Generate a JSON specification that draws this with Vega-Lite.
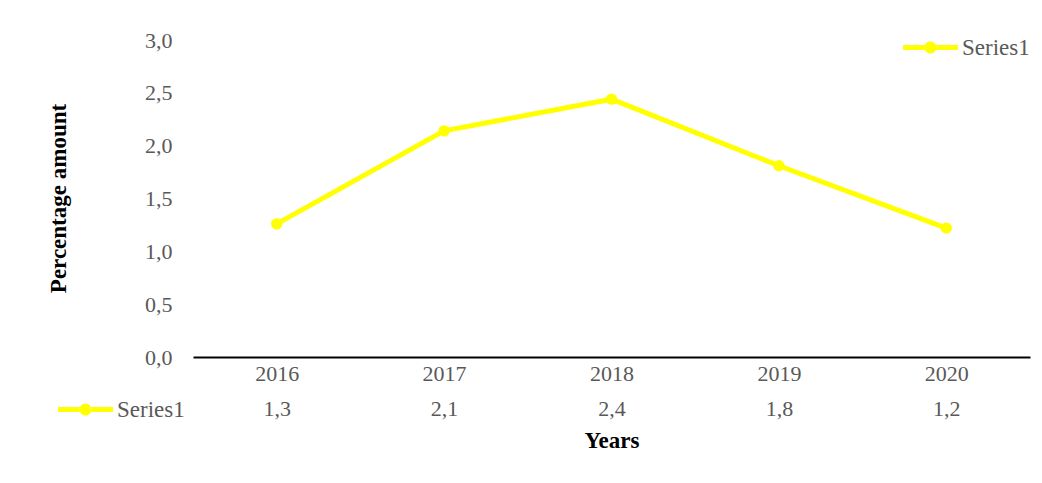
{
  "$schema": "https://vega.github.io/schema/vega-lite/v6.json",
  "width": 837,
  "height": 317,
  "autosize": "none",
  "padding": {"left": 193, "top": 40, "right": 12, "bottom": 126},
  "background": "white",
  "config": {"view": {"stroke": null}, "font": "Liberation Serif"},
  "data": {
    "values": [
      {"year": "2016", "value": 1.26, "series": "Series1"},
      {"year": "2017", "value": 2.14, "series": "Series1"},
      {"year": "2018", "value": 2.44, "series": "Series1"},
      {"year": "2019", "value": 1.81, "series": "Series1"},
      {"year": "2020", "value": 1.22, "series": "Series1"}
    ]
  },
  "layer": [
    {
      "layer": [
        {
          "mark": {"type": "line", "color": "#FFFF00", "strokeWidth": 5},
          "encoding": {
            "x": {
              "field": "year", "type": "ordinal",
              "scale": {"padding": 0.5},
              "axis": {
                "title": null, "labelAngle": 0, "labelFontSize": 22,
                "labelColor": "#595959", "labelPadding": 6, "ticks": false,
                "domainColor": "#000000", "domainWidth": 2
              }
            },
            "y": {
              "field": "value", "type": "quantitative",
              "scale": {"domain": [0, 3], "nice": false},
              "axis": {
                "values": [0, 0.5, 1, 1.5, 2, 2.5, 3],
                "labelExpr": "replace(format(datum.value,'.1f'),'.',',')",
                "grid": false, "domain": false, "ticks": false,
                "labelPadding": 21, "labelFontSize": 22, "labelColor": "#595959",
                "title": "Percentage amount", "titleFontSize": 23,
                "titleFontWeight": "bold", "titleColor": "#000000",
                "titleX": -135, "titleY": 158, "titleAngle": -90,
                "titleBaseline": "middle", "titleAlign": "center"
              }
            }
          }
        },
        {
          "mark": {"type": "circle", "opacity": 1, "size": 130},
          "encoding": {
            "x": {"field": "year", "type": "ordinal"},
            "y": {"field": "value", "type": "quantitative"},
            "color": {
              "field": "series", "type": "nominal",
              "scale": {"range": ["#FFFF00"]},
              "legend": {
                "title": null, "orient": "none", "legendX": 710, "legendY": -20,
                "symbolType": "M -0.22,0 A 0.22,0.22 0 1,0 0.22,0 A 0.22,0.22 0 1,0 -0.22,0 Z M -1,-0.09 H -0.21 V 0.09 H -1 Z M 0.21,-0.09 H 1 V 0.09 H 0.21 Z",
                "symbolSize": 3025, "symbolStrokeWidth": 0,
                "labelFontSize": 23, "labelColor": "#595959", "labelOffset": 4
              }
            }
          }
        }
      ]
    },
    {
      "mark": {"type": "text", "text": ""},
      "encoding": {
        "x": {
          "field": "value", "type": "ordinal", "sort": {"field": "year"},
          "scale": {"padding": 0.5},
          "axis": {
            "orient": "bottom", "offset": 35, "domain": false, "ticks": false,
            "labelAngle": 0,
            "labelExpr": "replace(format(datum.value,'.1f'),'.',',')",
            "labelFontSize": 22, "labelColor": "#595959", "labelPadding": 6,
            "title": "Years", "titleFontSize": 23, "titleFontWeight": "bold",
            "titleColor": "#000000", "titlePadding": 10
          }
        },
        "y": {"field": "value", "type": "quantitative"},
        "fill": {
          "field": "series", "type": "nominal",
          "scale": {"domain": ["Series1"], "range": ["#FFFF00"]},
          "legend": {
            "title": null, "orient": "none", "legendX": -135, "legendY": 342,
            "symbolType": "M -0.22,0 A 0.22,0.22 0 1,0 0.22,0 A 0.22,0.22 0 1,0 -0.22,0 Z M -1,-0.09 H -0.21 V 0.09 H -1 Z M 0.21,-0.09 H 1 V 0.09 H 0.21 Z",
            "symbolSize": 3025, "symbolStrokeWidth": 0,
            "labelFontSize": 23, "labelColor": "#595959", "labelOffset": 4
          }
        }
      }
    }
  ],
  "resolve": {"scale": {"x": "independent"}}
}
